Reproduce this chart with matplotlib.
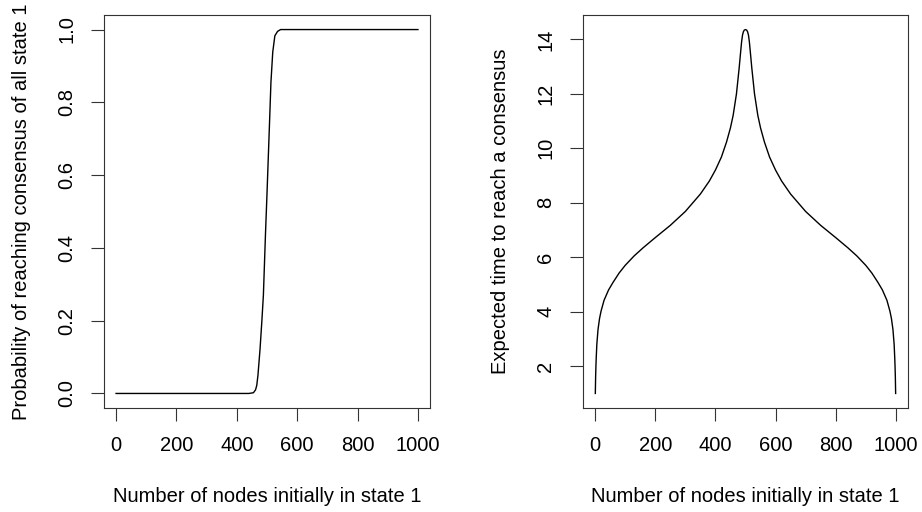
import matplotlib
matplotlib.use("Agg")
import matplotlib.pyplot as plt

plt.rcParams['font.family'] = ['Liberation Sans', 'DejaVu Sans']

# left panel: probability of consensus on state 1
prob_x = [0, 100, 200, 300, 400, 440, 455, 462, 466, 470, 477, 483, 488, 495, 500,
          508, 513, 519, 526, 535, 545, 560, 700, 850, 1000]
prob_y = [0.0, 0.0, 0.0, 0.0, 0.0, 0.0, 0.002, 0.01, 0.022, 0.05, 0.123, 0.2, 0.27, 0.44, 0.55,
          0.736, 0.855, 0.938, 0.983, 0.995, 1.0, 1.0, 1.0, 1.0, 1.0]

# right panel: expected time to consensus
time_x = [1, 2, 3, 4, 6, 10, 15, 20, 30, 45, 60, 80, 100, 130, 160, 200, 250, 300,
          350, 380, 400, 420, 437, 450, 459, 470, 479, 484, 487, 490, 493, 496, 500,
          504, 507, 510, 513, 516, 521, 530, 541, 550, 563, 580, 600, 620, 650,
          700, 750, 800, 840, 870, 900, 920, 940, 955, 970, 980, 985, 990, 994, 996, 997, 998, 999]
time_y = [1.0, 1.6, 2.0, 2.3, 2.8, 3.35, 3.75, 4.02, 4.42, 4.8, 5.08, 5.42, 5.70, 6.05, 6.35, 6.72, 7.17, 7.68,
          8.32, 8.80, 9.20, 9.68, 10.23, 10.75, 11.21, 12.0, 12.95, 13.55, 13.9, 14.15, 14.28, 14.34, 14.36,
          14.34, 14.28, 14.15, 13.9, 13.55, 12.95, 12.0, 11.21, 10.75, 10.23, 9.68, 9.20, 8.80, 8.32,
          7.68, 7.17, 6.72, 6.35, 6.05, 5.70, 5.42, 5.08, 4.8, 4.42, 4.02, 3.75, 3.35, 2.8, 2.3, 2.0, 1.6, 1.0]

xticks = [0, 200, 400, 600, 800, 1000]
prob_ticks = [0.0, 0.2, 0.4, 0.6, 0.8, 1.0]
time_ticks = [2, 4, 6, 8, 10, 12, 14]

fig = plt.figure(figsize=(9.22, 5.12), dpi=100)
ax1 = fig.add_axes([0.1128, 0.2031, 0.3536, 0.7676])
ax2 = fig.add_axes([0.6323, 0.2031, 0.3525, 0.7676])


def r_style(ax, x, y, ylabel, yticks, ylabels):
    ax.plot(x, y, color='black', lw=1.0)
    # R-like 4% padding
    lo, hi = min(y), max(y)
    pad = (hi - lo) * 0.04
    ax.set_ylim(lo - pad, hi + pad)
    ax.set_xlim(-40, 1040)
    ax.set_xticks(xticks)
    ax.set_xticklabels([str(t) for t in xticks])
    ax.set_yticks(yticks)
    ax.set_yticklabels(ylabels, rotation=90, va='center')
    ax.tick_params(direction='out', length=9.5, width=0.8, labelsize=14.5, pad=10.5, color='#333333')
    for s in ax.spines.values():
        s.set_linewidth(0.8)
        s.set_color('#333333')
    ax.set_xlabel('Number of nodes initially in state 1', fontsize=14.5, labelpad=23)
    ax.set_ylabel(ylabel, fontsize=14.5, labelpad=19)


r_style(ax1, prob_x, prob_y, 'Probability of reaching consensus of all state 1',
        prob_ticks, ['%.1f' % t for t in prob_ticks])
r_style(ax2, time_x, time_y, 'Expected time to reach a consensus',
        time_ticks, [str(t) for t in time_ticks])

fig.savefig('out.png', dpi=100)
